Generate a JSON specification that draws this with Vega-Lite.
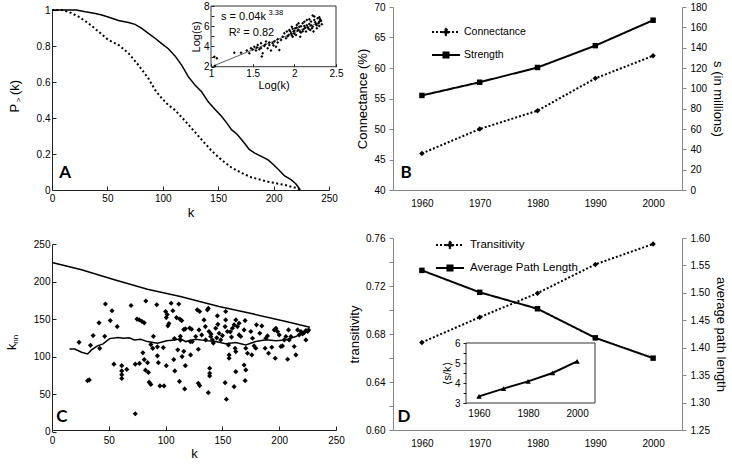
{
 "$schema": "https://vega.github.io/schema/vega-lite/v6.json",
 "padding": {"left": 6, "top": 1, "right": 5, "bottom": 5},
 "config": {
  "view": {"stroke": null},
  "font": "Liberation Sans",
  "axis": {"labelFont": "Liberation Sans", "titleFont": "Liberation Sans", "labelFontSize": 10, "titleFontSize": 13, "titleFontWeight": "normal", "labelColor": "#000", "titleColor": "#000", "domainColor": "#222", "tickColor": "#222", "grid": false, "labelFlush": false, "labelOverlap": false, "tickCount": 50},
  "legend": {"labelFont": "Liberation Sans"},
  "text": {"font": "Liberation Sans", "color": "#000"}
 },
 "datasets": {
  "a_curves": [
   {"k":0,"p":1,"s":"solid"},{"k":10,"p":1,"s":"solid"},{"k":22,"p":1,"s":"solid"},{"k":30,"p":0.99,"s":"solid"},{"k":38,"p":0.982,"s":"solid"},{"k":45,"p":0.972,"s":"solid"},{"k":52,"p":0.958,"s":"solid"},{"k":60,"p":0.942,"s":"solid"},{"k":69,"p":0.93,"s":"solid"},{"k":75,"p":0.92,"s":"solid"},{"k":81,"p":0.898,"s":"solid"},{"k":87,"p":0.87,"s":"solid"},{"k":93,"p":0.843,"s":"solid"},{"k":99,"p":0.813,"s":"solid"},{"k":105,"p":0.785,"s":"solid"},{"k":111,"p":0.745,"s":"solid"},{"k":117,"p":0.694,"s":"solid"},{"k":123,"p":0.63,"s":"solid"},{"k":129,"p":0.583,"s":"solid"},{"k":135,"p":0.546,"s":"solid"},{"k":141,"p":0.49,"s":"solid"},{"k":147,"p":0.448,"s":"solid"},{"k":153,"p":0.41,"s":"solid"},{"k":158,"p":0.37,"s":"solid"},{"k":162,"p":0.335,"s":"solid"},{"k":167,"p":0.31,"s":"solid"},{"k":171,"p":0.28,"s":"solid"},{"k":175,"p":0.25,"s":"solid"},{"k":178,"p":0.225,"s":"solid"},{"k":183,"p":0.205,"s":"solid"},{"k":188,"p":0.19,"s":"solid"},{"k":195,"p":0.167,"s":"solid"},{"k":200,"p":0.14,"s":"solid"},{"k":205,"p":0.11,"s":"solid"},{"k":210,"p":0.078,"s":"solid"},{"k":216,"p":0.056,"s":"solid"},{"k":220,"p":0.035,"s":"solid"},{"k":223,"p":0.01,"s":"solid"},{"k":224,"p":0,"s":"solid"},
   {"k":0,"p":1,"s":"dotted"},{"k":9,"p":1,"s":"dotted"},{"k":15,"p":0.99,"s":"dotted"},{"k":24,"p":0.963,"s":"dotted"},{"k":33,"p":0.926,"s":"dotted"},{"k":42,"p":0.88,"s":"dotted"},{"k":51,"p":0.833,"s":"dotted"},{"k":60,"p":0.806,"s":"dotted"},{"k":69,"p":0.76,"s":"dotted"},{"k":78,"p":0.694,"s":"dotted"},{"k":87,"p":0.62,"s":"dotted"},{"k":93,"p":0.556,"s":"dotted"},{"k":99,"p":0.51,"s":"dotted"},{"k":105,"p":0.472,"s":"dotted"},{"k":111,"p":0.444,"s":"dotted"},{"k":118,"p":0.398,"s":"dotted"},{"k":126,"p":0.343,"s":"dotted"},{"k":135,"p":0.28,"s":"dotted"},{"k":144,"p":0.218,"s":"dotted"},{"k":153,"p":0.167,"s":"dotted"},{"k":162,"p":0.125,"s":"dotted"},{"k":171,"p":0.095,"s":"dotted"},{"k":180,"p":0.07,"s":"dotted"},{"k":195,"p":0.046,"s":"dotted"},{"k":210,"p":0.028,"s":"dotted"},{"k":222,"p":0.009,"s":"dotted"},{"k":224,"p":0,"s":"dotted"}
  ],
  "a_inset": [
   {"lk":1.048,"ls":2.07},{"lk":1.04,"ls":2.99},{"lk":1.07,"ls":2.83},{"lk":1.28,"ls":3.39},{"lk":1.36,"ls":3.39},{"lk":1.43,"ls":3.59},{"lk":1.46,"ls":3.33},{"lk":1.48,"ls":3.82},{"lk":1.52,"ls":3.98},{"lk":1.54,"ls":3.59},{"lk":1.56,"ls":4.15},{"lk":1.58,"ls":3.72},{"lk":1.6,"ls":4.31},{"lk":1.62,"ls":3.33},{"lk":1.61,"ls":3.0},{"lk":1.64,"ls":4.05},{"lk":1.66,"ls":4.48},{"lk":1.68,"ls":3.82},{"lk":1.7,"ls":4.15},{"lk":1.72,"ls":3.59},{"lk":1.74,"ls":4.31},{"lk":1.76,"ls":4.48},{"lk":1.78,"ls":3.98},{"lk":1.8,"ls":4.38},{"lk":1.8,"ls":4.71},{"lk":1.82,"ls":3.66},{"lk":1.84,"ls":4.64},{"lk":1.86,"ls":4.97},{"lk":1.88,"ls":5.3},{"lk":1.9,"ls":4.81},{"lk":1.91,"ls":5.47},{"lk":1.93,"ls":5.14},{"lk":1.94,"ls":5.63},{"lk":1.96,"ls":5.3},{"lk":1.97,"ls":5.96},{"lk":1.98,"ls":4.97},{"lk":1.99,"ls":5.47},{"lk":2.01,"ls":5.8},{"lk":2.02,"ls":5.14},{"lk":2.03,"ls":6.13},{"lk":2.04,"ls":5.57},{"lk":2.06,"ls":5.96},{"lk":2.07,"ls":4.97},{"lk":2.08,"ls":5.37},{"lk":2.1,"ls":6.3},{"lk":2.11,"ls":5.7},{"lk":2.12,"ls":6.03},{"lk":2.14,"ls":5.47},{"lk":2.15,"ls":6.62},{"lk":2.16,"ls":5.9},{"lk":2.18,"ls":6.23},{"lk":2.19,"ls":5.63},{"lk":2.2,"ls":6.46},{"lk":2.22,"ls":5.96},{"lk":2.23,"ls":5.47},{"lk":2.24,"ls":6.62},{"lk":2.26,"ls":6.23},{"lk":2.27,"ls":5.8},{"lk":2.28,"ls":6.79},{"lk":2.3,"ls":6.46},{"lk":2.3,"ls":6.03},{"lk":2.31,"ls":6.69},{"lk":2.24,"ls":6.95},
   {"lk":1.5,"ls":3.7},{"lk":1.55,"ls":3.9},{"lk":1.6,"ls":3.85},{"lk":1.65,"ls":4.2},{"lk":1.7,"ls":4.4},{"lk":1.75,"ls":4.1},{"lk":1.92,"ls":5.0},{"lk":1.95,"ls":5.5},{"lk":1.98,"ls":5.75},{"lk":2.0,"ls":5.25},{"lk":2.05,"ls":5.65},{"lk":2.08,"ls":6.0},{"lk":2.1,"ls":5.5},{"lk":2.13,"ls":5.85},{"lk":2.15,"ls":6.1},{"lk":2.17,"ls":5.75},{"lk":2.2,"ls":6.1},{"lk":2.21,"ls":5.8},{"lk":2.25,"ls":6.4},{"lk":2.27,"ls":6.1},{"lk":2.29,"ls":6.3},{"lk":2.32,"ls":6.55},{"lk":2.05,"ls":6.3},{"lk":2.12,"ls":6.45},{"lk":2.18,"ls":6.7},{"lk":2.33,"ls":6.2},{"lk":1.97,"ls":5.1},{"lk":2.0,"ls":5.55},{"lk":2.03,"ls":5.85},{"lk":2.07,"ls":5.45},{"lk":2.22,"ls":7.05},{"lk":2.3,"ls":6.9}
  ],
  "a_fit": [{"lk":1.03,"ls":2.08},{"lk":2.33,"ls":6.48}],
  "b_series": [
   {"year":1960,"series":"Connectance","value":46},{"year":1970,"series":"Connectance","value":50},{"year":1980,"series":"Connectance","value":53},{"year":1990,"series":"Connectance","value":58.3},{"year":2000,"series":"Connectance","value":62},
   {"year":1960,"series":"Strength","value":93},{"year":1970,"series":"Strength","value":106},{"year":1980,"series":"Strength","value":120.5},{"year":1990,"series":"Strength","value":142},{"year":2000,"series":"Strength","value":167}
  ],
  "c_lines": [
   {"k":0,"knn":225.4,"s":"upper"},{"k":26,"knn":215.6,"s":"upper"},{"k":55,"knn":202.3,"s":"upper"},{"k":84,"knn":189.8,"s":"upper"},{"k":113,"knn":180,"s":"upper"},{"k":147,"knn":166.7,"s":"upper"},{"k":176.5,"knn":157,"s":"upper"},{"k":206,"knn":146.7,"s":"upper"},{"k":227,"knn":139.2,"s":"upper"},
   {"k":15.4,"knn":110.2,"s":"mean"},{"k":20,"knn":110,"s":"mean"},{"k":26,"knn":105.8,"s":"mean"},{"k":31.3,"knn":103.6,"s":"mean"},{"k":34.8,"knn":109,"s":"mean"},{"k":40,"knn":114.3,"s":"mean"},{"k":45,"knn":117,"s":"mean"},{"k":50.7,"knn":124,"s":"mean"},{"k":58,"knn":125.4,"s":"mean"},{"k":63,"knn":124.5,"s":"mean"},{"k":68,"knn":125,"s":"mean"},{"k":72.5,"knn":122.3,"s":"mean"},{"k":78,"knn":123.1,"s":"mean"},{"k":84,"knn":120,"s":"mean"},{"k":92.8,"knn":117.9,"s":"mean"},{"k":101,"knn":121,"s":"mean"},{"k":108,"knn":122,"s":"mean"},{"k":113,"knn":124,"s":"mean"},{"k":117.6,"knn":120,"s":"mean"},{"k":126.5,"knn":123,"s":"mean"},{"k":135.3,"knn":121.3,"s":"mean"},{"k":144.1,"knn":120,"s":"mean"},{"k":152.9,"knn":117,"s":"mean"},{"k":161.8,"knn":118.7,"s":"mean"},{"k":170.6,"knn":115.6,"s":"mean"},{"k":179.4,"knn":120,"s":"mean"},{"k":188.2,"knn":122.3,"s":"mean"},{"k":197.1,"knn":121.3,"s":"mean"},{"k":205.9,"knn":122.3,"s":"mean"},{"k":214.7,"knn":126.7,"s":"mean"},{"k":222,"knn":133.3,"s":"mean"},{"k":226,"knn":134,"s":"mean"}
  ],
  "c_points": [
   {"k":23.8,"knn":119},{"k":33.9,"knn":115},{"k":36.2,"knn":128},{"k":42,"knn":111},{"k":41.4,"knn":145},{"k":47,"knn":170},{"k":51.3,"knn":148},{"k":52.8,"knn":161},{"k":57.4,"knn":140},{"k":46.4,"knn":127},{"k":54.5,"knn":90},{"k":61.4,"knn":88},{"k":61.4,"knn":81},{"k":61.4,"knn":76},{"k":61.4,"knn":71},{"k":65.8,"knn":83},{"k":69.6,"knn":168},{"k":31.3,"knn":68},{"k":32.8,"knn":69},{"k":73.3,"knn":90},{"k":74.8,"knn":150},{"k":76.8,"knn":149},{"k":79.1,"knn":147},{"k":81.2,"knn":145},{"k":82.6,"knn":174},{"k":80,"knn":105},{"k":81.2,"knn":96},{"k":84.1,"knn":92},{"k":77,"knn":91},{"k":82.3,"knn":82},{"k":84.9,"knn":79},{"k":87,"knn":116},{"k":89.3,"knn":127},{"k":88.7,"knn":111},{"k":85.5,"knn":66},{"k":87,"knn":63},{"k":92.2,"knn":169},{"k":92.8,"knn":113},{"k":92.8,"knn":101},{"k":93.6,"knn":92},{"k":95,"knn":61},{"k":98.6,"knn":61},{"k":98,"knn":112},{"k":100,"knn":160},{"k":100.6,"knn":152},{"k":101.4,"knn":156},{"k":102.9,"knn":144},{"k":102,"knn":141},{"k":100.6,"knn":88},{"k":104.9,"knn":171},{"k":106.4,"knn":161},{"k":107.8,"knn":124},{"k":107.2,"knn":96},{"k":108.1,"knn":81},{"k":109.6,"knn":152},{"k":111.6,"knn":170},{"k":112.5,"knn":150},{"k":114.2,"knn":148},{"k":116,"knn":136},{"k":117.4,"knn":137},{"k":110.7,"knn":109},{"k":113,"knn":127},{"k":113,"knn":122},{"k":114.5,"knn":100},{"k":116,"knn":107},{"k":117.4,"knn":88},{"k":112.2,"knn":67},{"k":116.8,"knn":57},{"k":121.2,"knn":138},{"k":121.7,"knn":120},{"k":73.3,"knn":24},
   {"k":122.9,"knn":136.5},{"k":127.9,"knn":162.3},{"k":130,"knn":160},{"k":126.5,"knn":126.7},{"k":123.5,"knn":120},{"k":128.8,"knn":109.8},{"k":122,"knn":102.3},{"k":128.8,"knn":64.5},{"k":130,"knn":61.4},{"k":129.4,"knn":135.6},{"k":131.8,"knn":128.9},{"k":133.8,"knn":148.9},{"k":135.3,"knn":122.3},{"k":136.8,"knn":162.3},{"k":137.6,"knn":164.5},{"k":138.2,"knn":133.4},{"k":139.7,"knn":126.7},{"k":141.2,"knn":122.3},{"k":138.8,"knn":84.5},{"k":138.8,"knn":77.8},{"k":138.8,"knn":74.3},{"k":137.6,"knn":52},{"k":144.1,"knn":137.8},{"k":145.6,"knn":154.3},{"k":147.1,"knn":131.2},{"k":148.5,"knn":122.3},{"k":152.9,"knn":160},{"k":152.9,"knn":148.9},{"k":152.4,"knn":140},{"k":154.4,"knn":133.4},{"k":155.3,"knn":115.6},{"k":155.9,"knn":102.3},{"k":155.9,"knn":97.8},{"k":152.4,"knn":65.3},{"k":153.5,"knn":43.2},{"k":158.8,"knn":137.8},{"k":160.3,"knn":142.3},{"k":161.8,"knn":148.9},{"k":163.2,"knn":140},{"k":164.7,"knn":144.5},{"k":161.2,"knn":111.2},{"k":161.8,"knn":106.7},{"k":160.3,"knn":60},{"k":161.8,"knn":80},{"k":164.7,"knn":128.9},{"k":166.2,"knn":126.7},{"k":170,"knn":148},{"k":169.1,"knn":135.6},{"k":170.6,"knn":111.2},{"k":172.1,"knn":104.5},{"k":169.1,"knn":88.9},{"k":170.6,"knn":82.3},{"k":170,"knn":68},{"k":175,"knn":133.4},{"k":176.5,"knn":124.5},{"k":177.9,"knn":114.3},{"k":179.4,"knn":111.2},{"k":175.9,"knn":102.3},{"k":180,"knn":142.3},{"k":184.7,"knn":140.9},{"k":182.9,"knn":131.2},{"k":188.2,"knn":124.5},{"k":189.7,"knn":127.6},{"k":187.6,"knn":111.2},{"k":190.6,"knn":104.5},{"k":193.5,"knn":112.5},{"k":196.5,"knn":97.8},{"k":195.6,"knn":135.6},{"k":197.1,"knn":137.8},{"k":198.5,"knn":133.4},{"k":200,"knn":128.9},{"k":201.5,"knn":113.4},{"k":202.9,"knn":114.3},{"k":204.4,"knn":122.3},{"k":205.9,"knn":126.7},{"k":208.2,"knn":135.6},{"k":208.8,"knn":122.3},{"k":207.4,"knn":96.5},{"k":210.3,"knn":126.7},{"k":213.2,"knn":113.4},{"k":214.7,"knn":102.3},{"k":216.2,"knn":135.6},{"k":217.6,"knn":128.9},{"k":219.1,"knn":133.4},{"k":220.6,"knn":130.3},{"k":222,"knn":132},{"k":223.5,"knn":134.7},{"k":225,"knn":133.4},{"k":225.9,"knn":135.6},{"k":223.5,"knn":122.3},
   {"k":145,"knn":125},{"k":150,"knn":128},{"k":142,"knn":118},{"k":158,"knn":126},{"k":135,"knn":140},{"k":140,"knn":130},{"k":146,"knn":143},{"k":157,"knn":133}
  ],
  "d_series": [
   {"year":1960,"series":"Transitivity","value":0.673},{"year":1970,"series":"Transitivity","value":0.694},{"year":1980,"series":"Transitivity","value":0.714},{"year":1990,"series":"Transitivity","value":0.738},{"year":2000,"series":"Transitivity","value":0.755},
   {"year":1960,"series":"Average Path Length","value":1.541},{"year":1970,"series":"Average Path Length","value":1.501},{"year":1980,"series":"Average Path Length","value":1.471},{"year":1990,"series":"Average Path Length","value":1.418},{"year":2000,"series":"Average Path Length","value":1.381}
  ],
  "d_inset": [
   {"year":1960,"sk":3.33},{"year":1970,"sk":3.72},{"year":1980,"sk":4.08},{"year":1990,"sk":4.5},{"year":2000,"sk":5.08}
  ]
 },
 "columns": 2,
 "spacing": {"row": 48, "column": 57},
 "bounds": "flush",
 "resolve": {"scale": {"strokeDash": "independent"}, "legend": {"strokeDash": "independent"}},
 "concat": [
  {
   "width": 277, "height": 183,
   "resolve": {"scale": {"x": "independent", "y": "independent"}, "axis": {"x": "independent", "y": "independent"}},
   "layer": [
    {
     "layer": [
      {
       "data": {"name": "a_curves"},
       "transform": [{"filter": "datum.s === 'solid'"}],
       "mark": {"type": "line", "color": "black", "strokeWidth": 1.5},
       "encoding": {
        "x": {"field": "k", "type": "quantitative", "scale": {"domain": [0, 250], "nice": false}, "axis": {"values": [0,50,100,150,200,250], "tickCount": 50, "title": "k", "tickSize": -4, "labelPadding": 7, "titlePadding": 3}},
        "y": {"field": "p", "type": "quantitative", "scale": {"domain": [0, 1], "range": [183, 3], "nice": false}, "axis": {"values": [0,0.2,0.4,0.6,0.8,1], "tickCount": 50, "format": "~g", "title": null, "tickSize": -4, "labelPadding": 6}}
       }
      },
      {
       "data": {"name": "a_curves"},
       "transform": [{"filter": "datum.s === 'dotted'"}],
       "mark": {"type": "line", "color": "black", "strokeWidth": 2, "strokeDash": [2, 2.5]},
       "encoding": {
        "x": {"field": "k", "type": "quantitative"},
        "y": {"field": "p", "type": "quantitative"}
       }
      },
      {
       "data": {"values": [{}]},
       "mark": {"type": "text", "text": "A", "font": "Lato", "fontWeight": "bold", "fontSize": 17, "align": "left", "baseline": "alphabetic"},
       "encoding": {"x": {"datum": 6.5, "type": "quantitative"}, "y": {"datum": 0.065, "type": "quantitative"}}
      },
      {
       "data": {"values": [{}]},
       "mark": {"type": "text", "text": "P", "fontSize": 13, "angle": 270, "align": "center", "baseline": "middle"},
       "encoding": {"x": {"datum": -33, "type": "quantitative"}, "y": {"datum": 0.455, "type": "quantitative"}}
      },
      {
       "data": {"values": [{}]},
       "mark": {"type": "text", "text": ">", "fontSize": 8, "angle": 270, "align": "center", "baseline": "middle"},
       "encoding": {"x": {"datum": -30, "type": "quantitative"}, "y": {"datum": 0.5, "type": "quantitative"}}
      },
      {
       "data": {"values": [{}]},
       "mark": {"type": "text", "text": "(k)", "fontSize": 13, "angle": 270, "align": "center", "baseline": "middle"},
       "encoding": {"x": {"datum": -33, "type": "quantitative"}, "y": {"datum": 0.57, "type": "quantitative"}}
      }
     ]
    },
    {
     "layer": [
      {
       "data": {"values": [{}]},
       "mark": {"type": "rect", "fill": "white", "stroke": "#333", "strokeWidth": 1},
       "encoding": {
        "x": {"datum": 1, "type": "quantitative", "scale": {"domain": [1, 2.5], "range": [159, 284], "nice": false, "zero": false}, "axis": {"orient": "bottom", "offset": -123.3, "values": [1,1.5,2,2.5], "tickCount": 50, "format": "~g", "title": "Log(k)", "titleFontSize": 11, "titlePadding": 1, "tickSize": -3, "labelPadding": 5, "domain": false, "zindex": 1}},
        "x2": {"datum": 2.5},
        "y": {"datum": 2, "type": "quantitative", "scale": {"domain": [2, 8], "range": [59.7, -1], "nice": false, "zero": false}, "axis": {"orient": "left", "offset": -159, "values": [2,3,4,5,6,7,8], "tickCount": 50, "labelExpr": "datum.value % 2 === 0 ? format(datum.value, 'd') : ''", "title": "Log(s)", "titleFontSize": 11, "titlePadding": 2, "tickSize": -3, "labelPadding": 5, "domain": false, "zindex": 1}},
        "y2": {"datum": 8}
       }
      },
      {
       "data": {"name": "a_fit"},
       "mark": {"type": "line", "color": "#333", "strokeWidth": 0.8},
       "encoding": {"x": {"field": "lk", "type": "quantitative"}, "y": {"field": "ls", "type": "quantitative"}}
      },
      {
       "data": {"name": "a_inset"},
       "mark": {"type": "point", "shape": "diamond", "filled": true, "size": 9, "color": "black", "opacity": 1},
       "encoding": {"x": {"field": "lk", "type": "quantitative"}, "y": {"field": "ls", "type": "quantitative"}}
      },
      {
       "data": {"values": [{}]},
       "mark": {"type": "text", "text": "s = 0.04k", "fontSize": 11, "align": "left", "baseline": "middle"},
       "encoding": {"x": {"datum": 1.12, "type": "quantitative"}, "y": {"datum": 6.95, "type": "quantitative"}}
      },
      {
       "data": {"values": [{}]},
       "mark": {"type": "text", "text": "3.38", "fontSize": 7.5, "align": "left", "baseline": "middle"},
       "encoding": {"x": {"datum": 1.69, "type": "quantitative"}, "y": {"datum": 7.3, "type": "quantitative"}}
      },
      {
       "data": {"values": [{}]},
       "mark": {"type": "text", "text": "R² = 0.82", "fontSize": 11, "align": "center", "baseline": "middle"},
       "encoding": {"x": {"datum": 1.485, "type": "quantitative"}, "y": {"datum": 5.3, "type": "quantitative"}}
      }
     ]
    }
   ]
  },
  {
   "width": 289, "height": 183,
   "resolve": {"scale": {"y": "independent"}},
   "layer": [
    {
     "layer": [
      {
       "data": {"name": "b_series"},
       "transform": [{"filter": "datum.series === 'Connectance'"}],
       "mark": {"type": "line", "color": "black", "strokeWidth": 2},
       "encoding": {
        "x": {"field": "year", "type": "quantitative", "scale": {"domain": [1955, 2005], "nice": false, "zero": false}, "axis": {"values": [1960,1970,1980,1990,2000], "tickCount": 50, "format": "d", "title": null, "ticks": false, "labelPadding": 8, "domainColor": "#888"}},
        "y": {"field": "value", "type": "quantitative", "scale": {"domain": [40, 70], "nice": false, "zero": false}, "axis": {"values": [40,45,50,55,60,65,70], "tickCount": 50, "format": "d", "title": "Connectance (%)", "tickSize": 4, "labelPadding": 4, "domainColor": "#888", "tickColor": "#888"}},
        "strokeDash": {"field": "series", "type": "nominal", "scale": {"domain": ["Connectance", "Strength"], "range": [[2, 2], [1, 0]]},
         "legend": {"orient": "none", "legendX": 38, "legendY": 10, "title": null, "padding": 0, "symbolType": "M-1,0H1", "symbolSize": 784, "symbolStrokeWidth": 2, "symbolStrokeColor": "black", "symbolFillColor": "black", "labelFontSize": 10.5, "labelColor": "#000", "labelOffset": 3, "rowPadding": -14,
          "encode": {"symbols": {"update": {"shape": {"signal": "datum.value === 'Connectance' ? 'M-1,0H1M0,-0.22L0.22,0L0,0.22L-0.22,0Z' : 'M-1,0H1M-0.18,-0.18H0.18V0.18H-0.18Z'"}}}}}}
       }
      },
      {
       "data": {"name": "b_series"},
       "transform": [{"filter": "datum.series === 'Connectance'"}],
       "mark": {"type": "point", "shape": "diamond", "filled": true, "size": 30, "color": "black", "opacity": 1},
       "encoding": {"x": {"field": "year", "type": "quantitative"}, "y": {"field": "value", "type": "quantitative"}}
      },
      {
       "data": {"values": [{}]},
       "mark": {"type": "text", "text": "B", "font": "Lato", "fontWeight": "bold", "fontSize": 17, "align": "left", "baseline": "alphabetic"},
       "encoding": {"x": {"datum": 1956.3, "type": "quantitative"}, "y": {"datum": 41.9, "type": "quantitative"}}
      }
     ]
    },
    {
     "layer": [
      {
       "data": {"name": "b_series"},
       "transform": [{"filter": "datum.series === 'Strength'"}],
       "mark": {"type": "line", "color": "black", "strokeWidth": 2},
       "encoding": {
        "x": {"field": "year", "type": "quantitative"},
        "y": {"field": "value", "type": "quantitative", "scale": {"domain": [0, 180], "nice": false}, "axis": {"orient": "right", "values": [0,20,40,60,80,100,120,140,160,180], "tickCount": 50, "format": "d", "title": "s (in millions)", "tickSize": 4, "labelPadding": 4, "domainColor": "#888", "tickColor": "#888"}},
        "strokeDash": {"field": "series", "type": "nominal", "scale": {"domain": ["Connectance", "Strength"], "range": [[2, 2], [1, 0]]}}
       }
      },
      {
       "data": {"name": "b_series"},
       "transform": [{"filter": "datum.series === 'Strength'"}],
       "mark": {"type": "point", "shape": "square", "filled": true, "size": 30, "color": "black", "opacity": 1},
       "encoding": {"x": {"field": "year", "type": "quantitative"}, "y": {"field": "value", "type": "quantitative"}}
      }
     ]
    }
   ]
  },
  {
   "width": 284, "height": 192,
   "layer": [
    {
     "data": {"name": "c_lines"},
     "transform": [{"filter": "datum.s === 'upper'"}],
     "mark": {"type": "line", "color": "black", "strokeWidth": 1.5},
     "encoding": {
      "x": {"field": "k", "type": "quantitative", "scale": {"domain": [0, 250], "nice": false}, "axis": {"values": [0,50,100,150,200,250], "tickCount": 50, "title": "k", "tickSize": -4, "labelPadding": 9, "titlePadding": 2}},
      "y": {"field": "knn", "type": "quantitative", "scale": {"domain": [0, 250], "range": [193.7, 6], "nice": false}, "axis": {"values": [0,50,100,150,200,250], "tickCount": 50, "title": null, "tickSize": -4, "labelPadding": 6}}
     }
    },
    {
     "data": {"name": "c_lines"},
     "transform": [{"filter": "datum.s === 'mean'"}],
     "mark": {"type": "line", "color": "black", "strokeWidth": 1.5},
     "encoding": {"x": {"field": "k", "type": "quantitative"}, "y": {"field": "knn", "type": "quantitative"}}
    },
    {
     "data": {"name": "c_points"},
     "mark": {"type": "point", "shape": "diamond", "filled": true, "size": 26, "color": "black", "opacity": 1},
     "encoding": {"x": {"field": "k", "type": "quantitative"}, "y": {"field": "knn", "type": "quantitative"}}
    },
    {
     "data": {"values": [{}]},
     "mark": {"type": "text", "text": "C", "font": "Lato", "fontWeight": "bold", "fontSize": 17, "align": "left", "baseline": "alphabetic"},
     "encoding": {"x": {"datum": 3.8, "type": "quantitative"}, "y": {"datum": 13.3, "type": "quantitative"}}
    },
    {
     "data": {"values": [{}]},
     "mark": {"type": "text", "text": "k", "fontSize": 13, "angle": 270, "align": "center", "baseline": "middle"},
     "encoding": {"x": {"datum": -35, "type": "quantitative"}, "y": {"datum": 113, "type": "quantitative"}}
    },
    {
     "data": {"values": [{}]},
     "mark": {"type": "text", "text": "nn", "fontSize": 8, "angle": 270, "align": "center", "baseline": "middle"},
     "encoding": {"x": {"datum": -32, "type": "quantitative"}, "y": {"datum": 123, "type": "quantitative"}}
    }
   ]
  },
  {
   "width": 289, "height": 192,
   "resolve": {"scale": {"x": "independent", "y": "independent"}, "axis": {"x": "independent", "y": "independent"}},
   "layer": [
    {
     "layer": [
      {
       "data": {"name": "d_series"},
       "transform": [{"filter": "datum.series === 'Transitivity'"}],
       "mark": {"type": "line", "color": "black", "strokeWidth": 2},
       "encoding": {
        "x": {"field": "year", "type": "quantitative", "scale": {"domain": [1955, 2005], "nice": false, "zero": false}, "axis": {"values": [1960,1970,1980,1990,2000], "tickCount": 50, "format": "d", "title": null, "ticks": false, "labelPadding": 8, "domainColor": "#888"}},
        "y": {"field": "value", "type": "quantitative", "scale": {"domain": [0.6, 0.76], "nice": false, "zero": false}, "axis": {"values": [0.6,0.62,0.64,0.66,0.68,0.7,0.72,0.74,0.76], "tickCount": 50, "labelExpr": "round(datum.value*100) % 4 === 0 ? format(datum.value, '.2f') : ''", "title": "transitivity", "tickSize": 4, "labelPadding": 4, "domainColor": "#888", "tickColor": "#888"}},
        "strokeDash": {"field": "series", "type": "nominal", "scale": {"domain": ["Transitivity", "Average Path Length"], "range": [[2, 2], [1, 0]]},
         "legend": {"orient": "none", "legendX": 42, "legendY": -8, "title": null, "padding": 0, "symbolType": "M-1,0H1", "symbolSize": 784, "symbolStrokeWidth": 2, "symbolStrokeColor": "black", "symbolFillColor": "black", "labelFontSize": 11.5, "labelColor": "#000", "labelOffset": 5, "rowPadding": -10,
          "encode": {"symbols": {"update": {"shape": {"signal": "datum.value === 'Transitivity' ? 'M-1,0H1M0,-0.22L0.22,0L0,0.22L-0.22,0Z' : 'M-1,0H1M-0.18,-0.18H0.18V0.18H-0.18Z'"}}}}}}
       }
      },
      {
       "data": {"name": "d_series"},
       "transform": [{"filter": "datum.series === 'Transitivity'"}],
       "mark": {"type": "point", "shape": "diamond", "filled": true, "size": 30, "color": "black", "opacity": 1},
       "encoding": {"x": {"field": "year", "type": "quantitative"}, "y": {"field": "value", "type": "quantitative"}}
      },
      {
       "data": {"values": [{}]},
       "mark": {"type": "text", "text": "D", "font": "Lato", "fontWeight": "bold", "fontSize": 17, "align": "left", "baseline": "alphabetic"},
       "encoding": {"x": {"datum": 1955.8, "type": "quantitative"}, "y": {"datum": 0.607, "type": "quantitative"}}
      }
     ]
    },
    {
     "layer": [
      {
       "data": {"name": "d_series"},
       "transform": [{"filter": "datum.series === 'Average Path Length'"}],
       "mark": {"type": "line", "color": "black", "strokeWidth": 2},
       "encoding": {
        "x": {"field": "year", "type": "quantitative", "scale": {"domain": [1955, 2005], "nice": false, "zero": false}, "axis": null},
        "y": {"field": "value", "type": "quantitative", "scale": {"domain": [1.25, 1.6], "nice": false, "zero": false}, "axis": {"orient": "right", "values": [1.25,1.3,1.35,1.4,1.45,1.5,1.55,1.6], "tickCount": 50, "format": ".2f", "title": "average path length", "tickSize": 4, "labelPadding": 4, "domainColor": "#888", "tickColor": "#888"}},
        "strokeDash": {"field": "series", "type": "nominal", "scale": {"domain": ["Transitivity", "Average Path Length"], "range": [[2, 2], [1, 0]]}}
       }
      },
      {
       "data": {"name": "d_series"},
       "transform": [{"filter": "datum.series === 'Average Path Length'"}],
       "mark": {"type": "point", "shape": "square", "filled": true, "size": 30, "color": "black", "opacity": 1},
       "encoding": {"x": {"field": "year", "type": "quantitative"}, "y": {"field": "value", "type": "quantitative"}}
      }
     ]
    },
    {
     "layer": [
      {
       "data": {"values": [{}]},
       "mark": {"type": "rect", "fill": "white", "stroke": "#333", "strokeWidth": 1},
       "encoding": {
        "x": {"datum": 1954.7, "type": "quantitative", "scale": {"domain": [1954.7, 2007.3], "range": [73, 202], "nice": false, "zero": false}, "axis": {"orient": "bottom", "offset": -27, "values": [1960,1980,2000], "tickCount": 50, "format": "d", "title": null, "ticks": false, "labelPadding": 5, "domain": false, "zindex": 1}},
        "x2": {"datum": 2007.3},
        "y": {"datum": 3, "type": "quantitative", "scale": {"domain": [3, 6], "range": [165, 105], "nice": false, "zero": false}, "axis": {"orient": "left", "offset": -73, "values": [3,3.5,4,4.5,5,5.5,6], "tickCount": 50, "labelExpr": "datum.value % 1 === 0 ? format(datum.value, 'd') : ''", "title": "⟨s/k⟩", "titleFontSize": 11, "titlePadding": 2, "tickSize": 3, "labelPadding": 3, "domain": false, "zindex": 1}},
        "y2": {"datum": 6}
       }
      },
      {
       "data": {"name": "d_inset"},
       "mark": {"type": "line", "color": "black", "strokeWidth": 2},
       "encoding": {"x": {"field": "year", "type": "quantitative"}, "y": {"field": "sk", "type": "quantitative"}}
      },
      {
       "data": {"name": "d_inset"},
       "mark": {"type": "point", "shape": "triangle-up", "filled": true, "size": 30, "color": "black", "opacity": 1},
       "encoding": {"x": {"field": "year", "type": "quantitative"}, "y": {"field": "sk", "type": "quantitative"}}
      }
     ]
    }
   ]
  }
 ]
}
